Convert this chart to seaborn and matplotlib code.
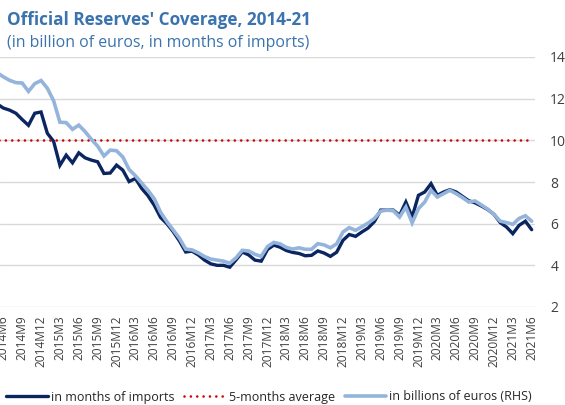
import numpy as np
import pandas as pd
import matplotlib
matplotlib.use("Agg")
import matplotlib.pyplot as plt
import seaborn as sns

# Monthly observations, 2014M5 - 2021M6
periods = [f"{p.year}M{p.month}" for p in pd.period_range("2014-05", "2021-06", freq="M")]

months_of_imports = [
    11.75, 11.55, 11.45, 11.30, 11.00, 10.72, 11.30, 11.36, 10.34, 9.95,
    8.80, 9.29, 8.92, 9.40, 9.16, 9.05, 8.97, 8.41, 8.43, 8.81,
    8.57, 8.02, 8.17, 7.69, 7.34, 6.88, 6.30, 6.00, 5.62, 5.17,
    4.64, 4.68, 4.50, 4.25, 4.07, 4.00, 4.00, 3.91, 4.26, 4.64,
    4.50, 4.25, 4.20, 4.76, 4.97, 4.87, 4.71, 4.62, 4.57, 4.46,
    4.48, 4.69, 4.59, 4.43, 4.63, 5.20, 5.48, 5.39, 5.60, 5.79,
    6.10, 6.65, 6.65, 6.65, 6.40, 7.04, 6.32, 7.36, 7.52, 7.92,
    7.36, 7.52, 7.63, 7.52, 7.31, 7.10, 7.00, 6.85, 6.68, 6.45,
    6.05, 5.84, 5.52, 5.92, 6.12, 5.71,
]

billions_of_euros = [
    13.25, 13.05, 12.88, 12.77, 12.75, 12.35, 12.72, 12.87, 12.50, 11.90,
    10.87, 10.85, 10.53, 10.73, 10.42, 10.05, 9.72, 9.25, 9.53, 9.50,
    9.20, 8.60, 8.30, 7.95, 7.60, 7.20, 6.55, 6.10, 5.70, 5.30,
    4.78, 4.74, 4.60, 4.42, 4.30, 4.25, 4.20, 4.10, 4.36, 4.72,
    4.69, 4.53, 4.43, 4.90, 5.10, 5.03, 4.86, 4.78, 4.84, 4.77,
    4.77, 5.04, 4.98, 4.84, 5.03, 5.60, 5.81, 5.68, 5.85, 6.03,
    6.25, 6.60, 6.65, 6.62, 6.32, 6.80, 6.04, 6.72, 7.04, 7.60,
    7.28, 7.44, 7.60, 7.44, 7.25, 7.04, 7.09, 6.90, 6.70, 6.45,
    6.12, 6.05, 5.97, 6.25, 6.38, 6.12,
]

five_month_average = 10.0

tick_labels = [
    "2014M6", "2014M9", "2014M12", "2015M3", "2015M6", "2015M9", "2015M12",
    "2016M3", "2016M6", "2016M9", "2016M12", "2017M3", "2017M6", "2017M9",
    "2017M12", "2018M3", "2018M6", "2018M9", "2018M12", "2019M3", "2019M6",
    "2019M9", "2019M12", "2020M3", "2020M6", "2020M9", "2020M12", "2021M3",
    "2021M6",
]
y_ticks = [2, 4, 6, 8, 10, 12, 14]

series_labels = ["in months of imports", "5-months average", "in billions of euros (RHS)"]
title = "Official Reserves' Coverage, 2014-21"
subtitle = "(in billion of euros, in months of imports)"

df = pd.DataFrame({
    "pos": np.arange(len(periods)),
    "period": periods,
    "months": months_of_imports,
    "avg": [five_month_average] * len(periods),
    "billions": billions_of_euros,
})

sns.set_style("white")
plt.rcParams["font.family"] = ["Open Sans", "DejaVu Sans"]

W, H = 565, 405
fig = plt.figure(figsize=(W / 100, H / 100), dpi=100)
ax = fig.add_axes([0, 1 - 307 / H, 535 / W, 250 / H])

navy = "#0b2561"
light = "#94b4dc"
red = "#d20000"

sns.lineplot(data=df, x="pos", y="months", ax=ax, color=navy, lw=2.4,
             legend=False, solid_joinstyle="miter")
sns.lineplot(data=df, x="pos", y="avg", ax=ax, color=red, lw=1.9,
             linestyle=(0, (0.01, 2.4)), dash_capstyle="round", legend=False)
sns.lineplot(data=df, x="pos", y="billions", ax=ax, color=light, lw=2.6,
             legend=False, solid_joinstyle="miter")

pos_of = {p: i for i, p in enumerate(periods)}
ax.set_xticks([pos_of[t] for t in tick_labels])
ax.set_xticklabels(tick_labels, rotation=90)
ax.set_xlim(0.475, len(periods) - 0.47)
ax.set_ylim(2, 14)
ax.set_yticks(y_ticks)
ax.yaxis.tick_right()
ax.set_xlabel("")
ax.set_ylabel("")
for s in ax.spines.values():
    s.set_visible(False)
ax.yaxis.grid(True, color="#d9d9d9", lw=1.0)
ax.set_axisbelow(True)
ax.tick_params(axis="y", length=0, pad=11, labelsize=10, labelcolor="#404040")
ax.tick_params(axis="x", length=0, pad=6, labelsize=8.6, labelcolor="#404040")

fig.text(7 / W, 1 - 25 / H, title, fontsize=12.3, fontweight="bold",
         color="#3a73ad", va="baseline", ha="left")
fig.text(7 / W, 1 - 47 / H, subtitle, fontsize=11.4, color="#3a73ad",
         va="baseline", ha="left")

handles = ax.lines[:3]
ax.legend(handles, series_labels, loc="center", ncol=3, frameon=False,
          bbox_to_anchor=(269 / W, 1 - 397 / H), bbox_transform=fig.transFigure,
          fontsize=9, handlelength=3.3, handletextpad=0.25, columnspacing=0.8,
          labelcolor="#262626")

fig.savefig("out.png", dpi=100, facecolor="white")
